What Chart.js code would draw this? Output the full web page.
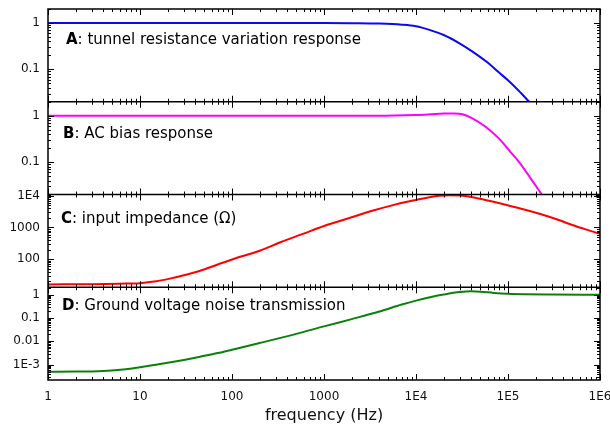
<!DOCTYPE html>
<html>
<head>
<meta charset="utf-8">
<script src="https://cdn.jsdelivr.net/npm/chart.js@4.4.0/dist/chart.umd.min.js"></script>
<style>
  html, body { margin: 0; padding: 0; background: #fff; }
  #wrap { width: 610px; height: 425px; }
</style>
</head>
<body>
<div id="wrap"><canvas id="chart"></canvas></div>
<script>
// A: tunnel resistance variation response
const freqA = [1, 100, 1000, 2000, 4000, 7000, 1e4, 1.4e4, 2e4, 3e4, 4e4, 6e4, 8e4, 1e5, 1.3e5, 1.7e5];
const tunnelResp = [1, 1, 1, 0.99, 0.97, 0.92, 0.85, 0.71, 0.55, 0.36, 0.25, 0.14, 0.085, 0.058, 0.035, 0.02];

// B: AC bias response
const freqB = [1, 100, 1000, 4000, 1e4, 1.4e4, 2e4, 2.6e4, 3.2e4, 4.1e4, 5.7e4, 8e4, 1.05e5, 1.32e5, 1.8e5, 2.33e5];
const biasResp = [1, 1, 1, 1, 1.04, 1.07, 1.11, 1.12, 1.08, 0.88, 0.58, 0.32, 0.17, 0.1, 0.042, 0.02];

// C: input impedance (ohm)
const freqC = [1, 3, 6, 10, 15, 20, 30, 45, 70, 100, 200, 330, 600, 1000, 2000, 3500, 5500, 8000, 1e4, 1.4e4,
               1.8e4, 2.3e4, 3e4, 4e4, 6.2e4, 1e5, 1.5e5, 2.2e5, 3.5e5, 5e5, 7e5, 1e6];
const impedance = [16, 16.2, 16.8, 17.5, 20, 23.5, 31, 43, 68, 98, 185, 335, 640, 1120, 2100, 3500, 5000, 6500, 7400, 9000,
                   10000, 10400, 10200, 9200, 7000, 5000, 3700, 2700, 1750, 1200, 870, 630];

// D: ground voltage noise transmission
const freqD = [1, 2, 4, 7, 10, 15, 20, 30, 45, 70, 100, 200, 500, 1000, 2000, 4000, 7000, 1e4, 1.5e4, 2e4,
               3e4, 4e4, 5e4, 7e4, 1e5, 1.5e5, 3e5, 1e6];
const groundResp = [5e-4, 5.05e-4, 5.4e-4, 6.4e-4, 7.8e-4, 1e-3, 1.2e-3, 1.6e-3, 2.2e-3, 3.15e-3, 4.4e-3, 8.5e-3, 0.021, 0.044, 0.09, 0.19, 0.38, 0.56, 0.82, 1.02,
                    1.3, 1.4, 1.35, 1.2, 1.1, 1.05, 1.02, 1.0];

// axis ranges and decade labels
const yMins = [0.02, 0.02, 13, 2.2e-4];
const yMaxs = [2, 2, 1.1e4, 2.1];
const decadeExps = [-3, -2, -1, 0, 1, 2, 3, 4, 5, 6];
const decadeLabels = ['1E-3', '0.01', '0.1', '1', '10', '100', '1000', '1E4', '1E5', '1E6'];

const panelLetters = ['A', 'B', 'C', 'D'];
const panelTexts = [': tunnel resistance variation response', ': AC bias response',
                    ': input impedance (\u03A9)', ': Ground voltage noise transmission'];
const lineColors = ['#0a0af0', '#ff00ff', '#ff0000', '#0a820a'];

const FONT = "'DejaVu Sans', sans-serif";
const axisIds = ['yA', 'yB', 'yC', 'yD'];

function decadeLabel(value) {
  const e = Math.log10(value);
  const r = Math.round(e);
  if (Math.abs(e - r) > 1e-6) return '';
  const i = decadeExps.indexOf(r);
  return i < 0 ? '' : decadeLabels[i];
}

function toPoints(xs, ys) {
  return xs.map((x, i) => ({ x: x, y: ys[i] }));
}

const seriesX = [freqA, freqB, freqC, freqD];
const seriesY = [tunnelResp, biasResp, impedance, groundResp];

const datasets = seriesY.map((ys, i) => ({
  data: toPoints(seriesX[i], ys),
  yAxisID: axisIds[i],
  borderColor: lineColors[i],
  borderWidth: 2,
  pointRadius: 0,
  cubicInterpolationMode: 'monotone',
  fill: false
}));

// y axes: defined bottom first so the layout stacks A on top
const scales = {
  x: {
    type: 'logarithmic',
    min: 1,
    max: 1e6,
    grid: { display: false, drawTicks: false },
    border: { display: false },
    ticks: {
      autoSkip: false,
      maxRotation: 0,
      padding: 10,
      color: '#111',
      font: { family: FONT, size: 12 },
      callback: (v) => decadeLabel(v)
    },
    title: {
      display: true,
      text: 'frequency (Hz)',
      color: '#111',
      padding: { top: 0, bottom: 0 },
      font: { family: FONT, size: 16 }
    },
    afterFit: (s) => {
      s.height = 45;
      s.paddingLeft = 0;
      s.paddingRight = 0;
    }
  }
};
for (let i = 3; i >= 0; i--) {
  scales[axisIds[i]] = {
    type: 'logarithmic',
    position: 'left',
    stack: 'panels',
    stackWeight: 1,
    min: yMins[i],
    max: yMaxs[i],
    grid: { display: false, drawTicks: false },
    border: { display: false },
    ticks: {
      autoSkip: false,
      padding: 8,
      color: '#111',
      font: { family: FONT, size: 12 },
      callback: (v) => decadeLabel(v)
    },
    afterFit: (s) => {
      s.width = 48;
      s.paddingTop = 0;
      s.paddingBottom = 0;
    }
  };
}

// frame, panel separators, inward ticks and panel captions
const framePlugin = {
  id: 'frame',
  afterDatasetsDraw(chart) {
    const ctx = chart.ctx;
    const area = chart.chartArea;
    const xs = chart.scales.x;
    ctx.save();
    ctx.strokeStyle = '#000';
    ctx.lineWidth = 1;

    const tick = (x1, y1, x2, y2) => {
      ctx.beginPath();
      ctx.moveTo(x1, y1);
      ctx.lineTo(x2, y2);
      ctx.stroke();
    };

    // y ticks on both sides of each panel
    axisIds.forEach((id) => {
      const s = chart.scales[id];
      const lo = Math.floor(Math.log10(s.min));
      const hi = Math.ceil(Math.log10(s.max));
      for (let e = lo; e <= hi; e++) {
        for (let k = 1; k <= 9; k++) {
          const v = k * Math.pow(10, e);
          if (v < s.min || v > s.max) continue;
          const y = Math.round(s.getPixelForValue(v)) + 0.5;
          const len = k === 1 ? 6 : 3;
          tick(area.left, y, area.left + len, y);
          tick(area.right, y, area.right - len, y);
        }
      }
    });

    // x ticks at the top, bottom and each separator
    const edges = axisIds.map((id) => chart.scales[id].top).concat([area.bottom]);
    for (let e = 0; e <= 6; e++) {
      for (let k = 1; k <= 9; k++) {
        const v = k * Math.pow(10, e);
        if (v > 1e6) continue;
        const x = Math.round(xs.getPixelForValue(v)) + 0.5;
        const len = k === 1 ? 6 : 3;
        edges.forEach((y, j) => {
          if (j > 0) tick(x, y, x, y - len);
          if (j < edges.length - 1) tick(x, y, x, y + len);
        });
      }
    }

    // frame and separators
    ctx.lineWidth = 1.5;
    ctx.strokeRect(area.left, area.top, area.right - area.left, area.bottom - area.top);
    edges.slice(1, -1).forEach((y) => tick(area.left, y, area.right, y));

    // captions
    const offs = [[18, 31], [15, 32], [13, 25], [14, 19]];
    ctx.fillStyle = '#000';
    ctx.textBaseline = 'middle';
    axisIds.forEach((id, i) => {
      const s = chart.scales[id];
      const x = area.left + offs[i][0];
      const y = s.top + offs[i][1];
      ctx.font = 'bold 15px ' + FONT;
      ctx.fillText(panelLetters[i], x, y);
      const w = ctx.measureText(panelLetters[i]).width;
      ctx.font = '15px ' + FONT;
      ctx.fillText(panelTexts[i], x + w, y);
    });
    ctx.restore();
  }
};

new Chart(document.getElementById('chart'), {
  type: 'line',
  data: { datasets: datasets },
  options: {
    responsive: true,
    maintainAspectRatio: false,
    animation: false,
    layout: { padding: { top: 9, right: 10, left: 0, bottom: 0 } },
    scales: scales,
    plugins: {
      legend: { display: false },
      tooltip: { enabled: false }
    }
  },
  plugins: [framePlugin]
});
</script>
</body>
</html>
